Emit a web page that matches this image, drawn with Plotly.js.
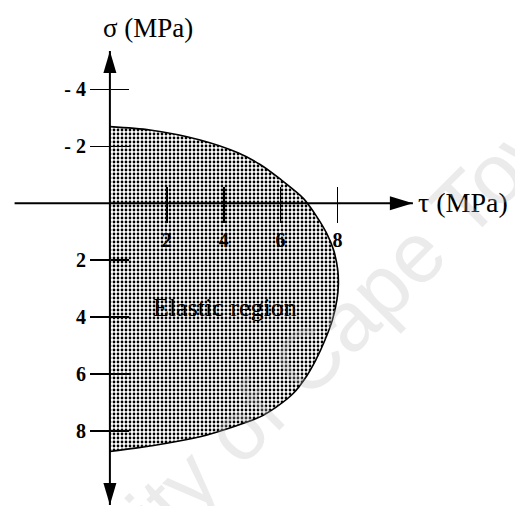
<!DOCTYPE html>
<html>
<head>
<meta charset="utf-8">
<script src="https://cdn.plot.ly/plotly-3.0.1.min.js"></script>
<style>
  html, body { margin: 0; padding: 0; background: #fff; }
  #chart { width: 515px; height: 506px; }
</style>
</head>
<body>
<div id="chart"></div>
<script>
// Boundary of the elastic region: shear stress tau against normal stress sigma (MPa)
const tauBoundary = [0, 1.41, 3.17, 4.50, 5.28, 5.97, 6.80, 7.27, 7.62, 7.86, 8.01, 8.03, 7.98, 7.82, 7.56,
                     7.24, 6.90, 6.45, 5.87, 5.28, 4.45, 3.17, 2.00, 0.90, 0];
const sigmaBoundary = [-2.69, -2.57, -2.22, -1.77, -1.36, -0.86, -0.17, 0.47, 1.06, 1.64, 2.35, 2.88, 3.40, 4.11, 4.81,
                       5.51, 6.10, 6.68, 7.15, 7.51, 7.82, 8.21, 8.44, 8.61, 8.73];

// Axis ticks
const tauTicks = [2, 4, 6, 8];
const tauTickLabels = ['2', '4', '6', '8'];
const sigmaTicks = [-4, -2, 2, 4, 6, 8];
const sigmaTickLabels = ['- 4', '- 2', '2', '4', '6', '8'];

// Extent of the drawn axis arrows (MPa)
const tauAxisExtent = [-3.35, 10.65];
const sigmaAxisExtent = [-5.35, 10.61];

// Page geometry: equal scale on both axes, sigma increasing downward
const W = 515, H = 506;
const pxPerUnit = 28.45;
const originX = 109.9, originY = 203.2;
const xRange = [-originX / pxPerUnit, (W - originX) / pxPerUnit];
const yRange = [(H - originY) / pxPerUnit, -originY / pxPerUnit];
const xAxisPos = (H - originY) / H;   // paper height of sigma = 0
const yAxisPos = originX / W;         // paper width of tau = 0

const serif = 'Liberation Serif, Times New Roman, serif';
const tickFont = { family: serif, size: 20, weight: 'bold', color: '#000' };

const region = {
  x: tauBoundary, y: sigmaBoundary,
  type: 'scatter', mode: 'lines',
  line: { color: '#000', width: 1.6, shape: 'spline', smoothing: 0.8 },
  fill: 'toself', fillcolor: '#ffffff',
  fillpattern: { shape: '.', fgcolor: '#000', bgcolor: '#ffffff', size: 4, solidity: 0.38 },
  hoverinfo: 'skip', showlegend: false
};
// carries the second pair of axes (upper / right halves of the crossing ticks)
const tickCarrier = {
  x: tauBoundary, y: sigmaBoundary, xaxis: 'x2', yaxis: 'y2',
  type: 'scatter', mode: 'none', hoverinfo: 'skip', showlegend: false
};

const baseAxis = { showgrid: false, zeroline: false, showline: false, fixedrange: true,
                   tickmode: 'array', ticks: 'outside', tickcolor: '#000', tickwidth: 1.6 };

const arrowHead = (xa, ya, path) => ({
  type: 'path', xref: 'x', yref: 'y', xsizemode: 'pixel', ysizemode: 'pixel',
  xanchor: xa, yanchor: ya, path: path, fillcolor: '#000', line: { width: 0 }
});

const layout = {
  width: W, height: H,
  margin: { l: 0, r: 0, t: 0, b: 0 },
  paper_bgcolor: '#fff', plot_bgcolor: 'rgba(0,0,0,0)',
  showlegend: false,
  xaxis: Object.assign({}, baseAxis, {
    range: xRange, anchor: 'free', position: xAxisPos,
    tickvals: tauTicks, ticktext: tauTickLabels, ticklen: 19, tickfont: tickFont
  }),
  xaxis2: Object.assign({}, baseAxis, {
    range: xRange, overlaying: 'x', side: 'top', anchor: 'free', position: xAxisPos,
    tickvals: tauTicks, ticklen: 16, showticklabels: false
  }),
  yaxis: Object.assign({}, baseAxis, {
    range: yRange, anchor: 'free', position: yAxisPos,
    tickvals: sigmaTicks, ticktext: sigmaTickLabels, ticklen: 20, tickfont: tickFont
  }),
  yaxis2: Object.assign({}, baseAxis, {
    range: yRange, overlaying: 'y', side: 'right', anchor: 'free', position: yAxisPos,
    tickvals: sigmaTicks, ticklen: 18, showticklabels: false
  }),
  shapes: [
    { type: 'line', xref: 'x', yref: 'y', x0: tauAxisExtent[0], x1: tauAxisExtent[1], y0: 0, y1: 0,
      line: { color: '#000', width: 2 } },
    { type: 'line', xref: 'x', yref: 'y', x0: 0, x1: 0, y0: sigmaAxisExtent[0], y1: sigmaAxisExtent[1],
      line: { color: '#000', width: 2 } },
    arrowHead(tauAxisExtent[1], 0, 'M0,0 L-23,7 L-23,-7 Z'),
    arrowHead(0, sigmaAxisExtent[0], 'M0,0 L-6.5,-22 L6.5,-22 Z'),
    arrowHead(0, sigmaAxisExtent[1], 'M0,0 L-6.5,22 L6.5,22 Z')
  ],
  annotations: [
    { xref: 'paper', yref: 'paper', x: 147.5 / W, y: 1 - 28 / H, text: 'σ (MPa)', showarrow: false,
      xanchor: 'center', yanchor: 'middle', font: { family: serif, size: 27, color: '#000' } },
    { xref: 'paper', yref: 'paper', x: 416 / W, y: 1 - 202 / H, text: 'τ (MPa)', showarrow: false,
      xanchor: 'left', yanchor: 'middle', font: { family: serif, size: 28, color: '#000' } },
    { xref: 'paper', yref: 'paper', x: 225 / W, y: 1 - 307 / H, text: 'Elastic region', showarrow: false,
      xanchor: 'center', yanchor: 'middle', font: { family: serif, size: 26, color: '#000' } },
    { xref: 'paper', yref: 'paper', x: 262 / W, y: 1 - 405 / H, text: 'University of Cape Town',
      showarrow: false, textangle: -45, xanchor: 'center', yanchor: 'middle', opacity: 0.28,
      font: { family: 'Liberation Sans, Arial, sans-serif', size: 85, color: 'rgb(185,185,185)' } }
  ]
};

Plotly.newPlot('chart', [region, tickCarrier], layout, { staticPlot: true, displayModeBar: false });
</script>
</body>
</html>
